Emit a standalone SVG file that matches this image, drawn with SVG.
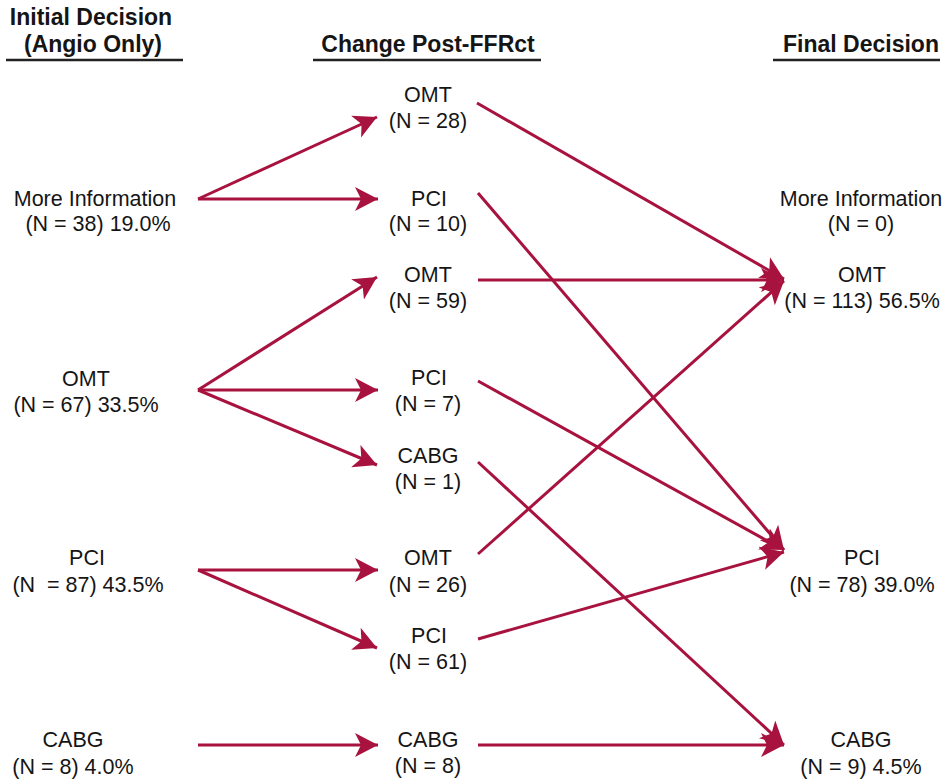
<svg xmlns="http://www.w3.org/2000/svg" width="951" height="784" viewBox="0 0 951 784">
<style>
text{font-family:"Liberation Sans",Arial,sans-serif;fill:#151515;text-anchor:middle;white-space:pre}
.h{font-weight:bold;font-size:23px}
.t{font-size:21.5px}
.ul{stroke:#222;stroke-width:2.5}
.c line{stroke:#A8123F;stroke-width:3;marker-end:url(#ah)}
</style>
<defs>
<marker id="ah" markerUnits="userSpaceOnUse" markerWidth="26" markerHeight="26" refX="23" refY="12" orient="auto">
<path d="M0,0 L23,12 L0,24 L6,12 Z" fill="#A8123F"/>
</marker>
</defs>
<rect width="951" height="784" fill="#fff"/>
<g id="headers">
<text class="h" x="91" y="25">Initial Decision</text>
<text class="h" x="93" y="52">(Angio Only)</text>
<line class="ul" x1="6" y1="60" x2="183" y2="60"/>
<text class="h" x="428" y="52">Change Post-FFRct</text>
<line class="ul" x1="313" y1="60" x2="541" y2="60"/>
<text class="h" x="861" y="52">Final Decision</text>
<line class="ul" x1="773" y1="60" x2="940" y2="60"/>
</g>
<g id="i-more"><text class="t" x="95" y="206">More Information</text><text class="t" x="98" y="231">(N = 38) 19.0%</text></g>
<g id="i-omt"><text class="t" x="86" y="386">OMT</text><text class="t" x="86" y="412">(N = 67) 33.5%</text></g>
<g id="i-pci"><text class="t" x="87" y="565">PCI</text><text class="t" x="88" y="592">(N  = 87) 43.5%</text></g>
<g id="i-cabg"><text class="t" x="73" y="747">CABG</text><text class="t" x="73" y="774">(N = 8) 4.0%</text></g>
<g id="m-omt28"><text class="t" x="428" y="102">OMT</text><text class="t" x="428" y="128">(N = 28)</text></g>
<g id="m-pci10"><text class="t" x="429" y="206">PCI</text><text class="t" x="428" y="231">(N = 10)</text></g>
<g id="m-omt59"><text class="t" x="428" y="282">OMT</text><text class="t" x="428" y="308">(N = 59)</text></g>
<g id="m-pci7"><text class="t" x="429" y="385">PCI</text><text class="t" x="428" y="411">(N = 7)</text></g>
<g id="m-cabg1"><text class="t" x="428" y="463">CABG</text><text class="t" x="428" y="489">(N = 1)</text></g>
<g id="m-omt26"><text class="t" x="428" y="565">OMT</text><text class="t" x="428" y="592">(N = 26)</text></g>
<g id="m-pci61"><text class="t" x="429" y="643">PCI</text><text class="t" x="428" y="669">(N = 61)</text></g>
<g id="m-cabg8"><text class="t" x="428" y="747">CABG</text><text class="t" x="428" y="773">(N = 8)</text></g>
<g id="f-more"><text class="t" x="861" y="206">More Information</text><text class="t" x="861" y="231">(N = 0)</text></g>
<g id="f-omt"><text class="t" x="862" y="282">OMT</text><text class="t" x="862" y="308">(N = 113) 56.5%</text></g>
<g id="f-pci"><text class="t" x="862" y="565">PCI</text><text class="t" x="862" y="592">(N = 78) 39.0%</text></g>
<g id="f-cabg"><text class="t" x="861" y="747">CABG</text><text class="t" x="861" y="774">(N = 9) 4.5%</text></g>
<g id="connectors" class="c">
<line x1="198" y1="199" x2="377" y2="117"/>
<line x1="198" y1="199" x2="378" y2="199"/>
<line x1="198" y1="390" x2="377" y2="277"/>
<line x1="198" y1="390" x2="378" y2="390"/>
<line x1="198" y1="390" x2="377" y2="465"/>
<line x1="198" y1="570" x2="378" y2="570"/>
<line x1="198" y1="570" x2="377" y2="648"/>
<line x1="198" y1="745" x2="378" y2="745"/>
<line x1="477" y1="103" x2="784" y2="279"/>
<line x1="478" y1="193" x2="784" y2="550"/>
<line x1="478" y1="280" x2="784" y2="280"/>
<line x1="478" y1="381" x2="784" y2="550"/>
<line x1="478" y1="462" x2="784" y2="745"/>
<line x1="478" y1="554" x2="784" y2="281"/>
<line x1="478" y1="639" x2="784" y2="552"/>
<line x1="478" y1="745" x2="784" y2="745"/>
</g>
</svg>
